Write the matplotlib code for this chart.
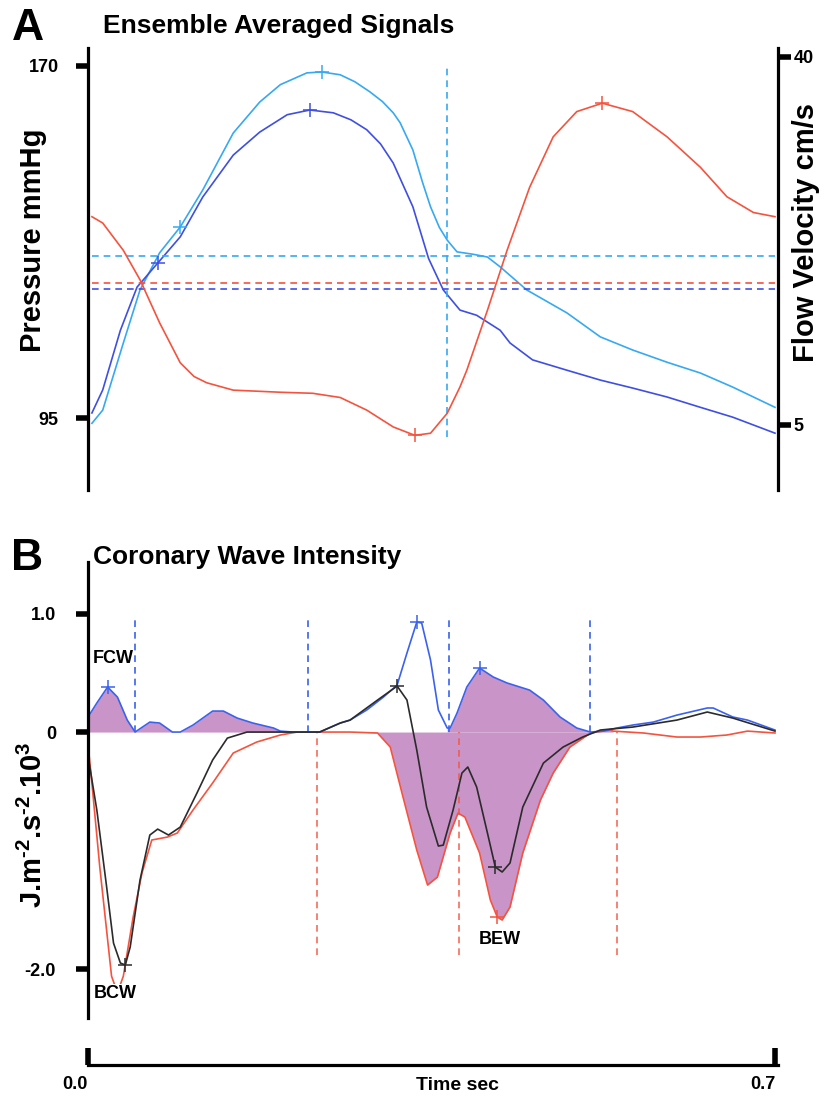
import numpy as np
import matplotlib
matplotlib.use("Agg")
import matplotlib.pyplot as plt

plt.rcParams['font.family'] = ['Liberation Sans', 'DejaVu Sans']
plt.rcParams['font.weight'] = 'bold'
plt.rcParams['mathtext.fontset'] = 'custom'
plt.rcParams['mathtext.rm'] = 'Liberation Sans:bold'
plt.rcParams['mathtext.bf'] = 'Liberation Sans:bold'

# ---- panel A: ensemble averaged signals ----
t_pa = [0.004, 0.015, 0.036, 0.053, 0.073, 0.094, 0.117, 0.148, 0.175, 0.196,
        0.223, 0.238, 0.257, 0.272, 0.287, 0.300, 0.311, 0.318, 0.331, 0.341,
        0.349, 0.358, 0.366, 0.376, 0.392, 0.407, 0.420, 0.447, 0.488, 0.522,
        0.555, 0.590, 0.624, 0.657, 0.685, 0.700]
p_a = [93.9, 96.7, 111.0, 122.3, 130.2, 135.7, 143.6, 155.7, 162.3, 166.0,
       168.5, 168.7, 168.1, 166.6, 164.5, 162.4, 160.0, 157.9, 152.1, 145.1,
       140.0, 135.6, 132.9, 130.4, 129.9, 129.3, 127.2, 122.3, 117.4, 112.3,
       109.5, 106.9, 104.6, 101.6, 98.8, 97.3]

t_pd = [0.004, 0.015, 0.033, 0.050, 0.071, 0.094, 0.117, 0.148, 0.175, 0.203,
        0.226, 0.250, 0.268, 0.284, 0.298, 0.311, 0.331, 0.347, 0.362, 0.379,
        0.396, 0.420, 0.430, 0.453, 0.488, 0.522, 0.555, 0.590, 0.624, 0.657,
        0.700]
p_d = [96.1, 101.0, 113.7, 122.9, 128.0, 133.6, 142.1, 151.0, 155.9, 159.6,
       160.6, 160.0, 158.5, 156.4, 153.4, 149.3, 140.0, 129.0, 122.3, 118.0,
       116.9, 113.7, 111.0, 107.4, 105.2, 103.1, 101.4, 99.5, 97.3, 95.2,
       91.8]

t_u = [0.004, 0.015, 0.036, 0.053, 0.073, 0.094, 0.108, 0.121, 0.148, 0.196,
       0.229, 0.257, 0.284, 0.311, 0.333, 0.349, 0.366, 0.379, 0.386, 0.407,
       0.427, 0.450, 0.474, 0.498, 0.524, 0.555, 0.590, 0.624, 0.651, 0.678,
       0.700]
u = [24.8, 24.2, 21.6, 18.8, 14.7, 10.9, 9.6, 9.0, 8.3, 8.1,
     8.0, 7.6, 6.4, 4.8, 4.0, 4.2, 6.1, 8.6, 10.2, 15.9,
     21.6, 27.6, 32.4, 34.8, 35.6, 34.8, 32.4, 29.5, 26.7, 25.2,
     24.8]

pa_marks = ([0.094, 0.238], [135.7, 168.7])
pd_marks = ([0.071, 0.226], [128.0, 160.6])
u_marks = ([0.333, 0.524], [4.0, 35.6])
pa_mean, pd_mean, u_mean = 129.5, 122.5, 18.5
t_valve = 0.366

# ---- panel B: coronary wave intensity ----
t_fw = [0.000, 0.009, 0.020, 0.030, 0.040, 0.048, 0.063, 0.073, 0.086, 0.094,
        0.107, 0.127, 0.138, 0.152, 0.168, 0.189, 0.196, 0.209, 0.236, 0.257,
        0.267, 0.284, 0.301, 0.315, 0.325, 0.335, 0.340, 0.349, 0.357, 0.366,
        0.369, 0.376, 0.386, 0.399, 0.413, 0.427, 0.450, 0.464, 0.481, 0.498,
        0.512, 0.525, 0.539, 0.555, 0.576, 0.600, 0.631, 0.637, 0.657, 0.672,
        0.700]
w_fw = [0.127, 0.245, 0.380, 0.295, 0.101, 0.000, 0.084, 0.076, 0.000, 0.000,
        0.059, 0.177, 0.177, 0.118, 0.076, 0.034, 0.008, 0.000, 0.000, 0.076,
        0.101, 0.186, 0.295, 0.397, 0.667, 0.928, 0.920, 0.608, 0.186, 0.034,
        0.034, 0.160, 0.380, 0.540, 0.464, 0.414, 0.354, 0.270, 0.127, 0.034,
        0.000, 0.008, 0.034, 0.059, 0.084, 0.143, 0.203, 0.203, 0.127, 0.101,
        0.017]

t_net = [0.000, 0.009, 0.019, 0.026, 0.033, 0.038, 0.043, 0.053, 0.063, 0.071,
         0.082, 0.094, 0.111, 0.127, 0.142, 0.162, 0.236, 0.257, 0.267, 0.295,
         0.315, 0.325, 0.335, 0.345, 0.357, 0.362, 0.372, 0.381, 0.387, 0.396,
         0.407, 0.415, 0.422, 0.430, 0.443, 0.464, 0.484, 0.504, 0.522, 0.532,
         0.555, 0.600, 0.631, 0.657, 0.700]
w_net = [-0.20, -0.658, -1.308, -1.781, -1.949, -1.966, -1.814, -1.249, -0.869, -0.819,
         -0.869, -0.802, -0.515, -0.236, -0.051, 0.000, 0.000, 0.076, 0.101, 0.270,
         0.388, 0.270, -0.152, -0.633, -0.962, -0.954, -0.658, -0.346, -0.295, -0.464,
         -0.852, -1.139, -1.181, -1.105, -0.633, -0.262, -0.127, -0.042, 0.017, 0.025,
         0.042, 0.101, 0.169, 0.118, 0.008]

t_bw = [0.000, 0.003, 0.012, 0.024, 0.030, 0.036, 0.046, 0.055, 0.065, 0.081,
        0.091, 0.107, 0.127, 0.148, 0.172, 0.196, 0.213, 0.267, 0.295, 0.308,
        0.321, 0.335, 0.346, 0.356, 0.369, 0.377, 0.384, 0.399, 0.410, 0.417,
        0.422, 0.430, 0.443, 0.461, 0.474, 0.491, 0.512, 0.532, 0.535, 0.566,
        0.600, 0.624, 0.651, 0.672, 0.700]
w_bw = [-0.10, -0.346, -1.139, -2.06, -2.20, -2.06, -1.561, -1.190, -0.911, -0.886,
        -0.852, -0.658, -0.430, -0.177, -0.084, -0.025, 0.000, 0.000, -0.008, -0.127,
        -0.549, -0.996, -1.291, -1.224, -0.852, -0.684, -0.717, -1.021, -1.418, -1.561,
        -1.586, -1.477, -1.021, -0.574, -0.346, -0.127, -0.008, 0.017, 0.008, -0.008,
        -0.042, -0.042, -0.025, 0.008, -0.008]

fw_marks = ([0.020, 0.335, 0.399], [0.380, 0.928, 0.540])
net_marks = ([0.038, 0.315, 0.415], [-1.966, 0.388, -1.139])
bw_marks = ([0.417], [-1.561])
fw_lines = [0.048, 0.224, 0.368, 0.5115]
bw_lines = [0.233, 0.378, 0.539]

CYAN = '#36a9f2'
DBLUE = '#3f4fe2'
RED = '#f5533e'
BBLUE = '#3b62ee'
BLACK = '#2b2b2b'
FILL = '#c994c7'

W, H = 826, 1106
fig = plt.figure(figsize=(W / 100, H / 100), dpi=100)


def box(x0, y0, x1, y1):
    return [x0 / W, 1 - y1 / H, (x1 - x0) / W, (y1 - y0) / H]


XMAX = 0.7 * 690 / 687

# Panel A
axA = fig.add_axes(box(88, 48, 778, 490))
axA2 = axA.twinx()
axA.set_xlim(0, XMAX)
axA.set_ylim(79.7, 173.8)
axA2.set_ylim(-1.2, 40.85)
for a in (axA, axA2):
    for s in ('top', 'bottom'):
        a.spines[s].set_visible(False)
    a.set_xticks([])
axA.spines['right'].set_visible(False)
axA2.spines['left'].set_visible(False)
axA.spines['left'].set_linewidth(2.3)
axA2.spines['right'].set_linewidth(2.3)
axA.set_yticks([95, 170])
axA.set_yticklabels(['95', '170'])
axA2.set_yticks([5, 40])
axA2.set_yticklabels(['5', '40'])
axA.tick_params(axis='y', length=9, width=4, pad=12, labelsize=13)
axA2.tick_params(axis='y', length=9, width=4, pad=2, labelsize=13)

axA.plot(t_pa, p_a, color=CYAN, lw=1.2)
axA.plot(t_pd, p_d, color=DBLUE, lw=1.2)
axA2.plot(t_u, u, color=RED, lw=1.2)
axA.plot(*pa_marks, '+', color=CYAN, ms=10, mew=1.1)
axA.plot(*pd_marks, '+', color=DBLUE, ms=10, mew=1.1)
axA2.plot(*u_marks, '+', color=RED, ms=10, mew=1.1)
axA.hlines(pa_mean, 0.004, 0.7, color=CYAN, ls=(0, (4, 3)), lw=1.2)
axA.hlines(pd_mean, 0.004, 0.7, color=DBLUE, ls=(0, (4, 3)), lw=1.2)
axA2.hlines(u_mean, 0.004, 0.7, color=RED, ls=(0, (4, 3)), lw=1.2)
axA.vlines(t_valve, 91.0, 169.6, color=CYAN, ls=(0, (4, 3)), lw=1.2)

fig.text(33 / W, 1 - 240 / H, 'Pressure mmHg', fontsize=21, rotation=90,
         ha='center', va='center')
fig.text(806 / W, 1 - 233 / H, 'Flow Velocity cm/s', fontsize=21, rotation=90,
         ha='center', va='center')
fig.text(28 / W, 1 - 28 / H, 'A', fontsize=32, ha='center', va='center')
fig.text(103 / W, 1 - 26 / H, 'Ensemble Averaged Signals', fontsize=19,
         ha='left', va='center')

# Panel B
axB = fig.add_axes(box(88, 562, 778, 1018))
axB.set_xlim(0, XMAX)
axB.set_ylim(-2.413, 1.435)
for s in ('top', 'bottom', 'right'):
    axB.spines[s].set_visible(False)
axB.spines['left'].set_linewidth(2.3)
axB.set_xticks([])
axB.set_yticks([-2.0, 0, 1.0])
axB.set_yticklabels(['-2.0', '0', '1.0'])
axB.tick_params(axis='y', length=9, width=4, pad=14, labelsize=13)

tf = np.array(t_fw)
wf = np.array(w_fw)
tb = np.array(t_bw)
wb = np.array(w_bw)
axB.fill_between(tf, wf, 0, where=(tf <= 0.224), color=FILL, lw=0)
axB.fill_between(tf, wf, 0, where=(tf >= 0.366) & (tf <= 0.512), color=FILL, lw=0)
axB.fill_between(tb, wb, 0, where=(tb >= 0.267) & (tb <= 0.54), color=FILL, lw=0)

axB.vlines(fw_lines, 0, 0.945, color=BBLUE, ls=(0, (4, 3)), lw=1.2)
axB.vlines(bw_lines, -1.88, 0, color=RED, ls=(0, (4, 3)), lw=1.2, alpha=0.85)

axB.plot(t_bw, w_bw, color=RED, lw=1.2)
axB.plot(t_fw, w_fw, color=BBLUE, lw=1.2)
axB.plot(t_net, w_net, color=BLACK, lw=1.2)
axB.plot(*fw_marks, '+', color=BBLUE, ms=10, mew=1.1)
axB.plot(*net_marks, '+', color=BLACK, ms=10, mew=1.1)
axB.plot(*bw_marks, '+', color=RED, ms=10, mew=1.1)

axB.text(0.026, 0.62, 'FCW', fontsize=13, ha='center', va='center')
axB.text(0.028, -2.21, 'BCW', fontsize=13, ha='center', va='center',
         bbox=dict(facecolor='white', edgecolor='none', pad=1))
axB.text(0.420, -1.75, 'BEW', fontsize=13, ha='center', va='center')

fig.text(33 / W, 1 - 825 / H, 'J.m$^{\u20102}$.s$^{\u20102}$.10$^{3}$', fontsize=21,
         rotation=90, ha='center', va='center')
fig.text(27 / W, 1 - 558 / H, 'B', fontsize=32, ha='center', va='center')
fig.text(93 / W, 1 - 557 / H, 'Coronary Wave Intensity', fontsize=19,
         ha='left', va='center')

# Time axis
axT = fig.add_axes(box(88, 1000, 778, 1065))
axT.patch.set_visible(False)
axT.set_xlim(0, XMAX)
for s in ('top', 'left', 'right'):
    axT.spines[s].set_visible(False)
axT.spines['bottom'].set_linewidth(2.3)
axT.set_yticks([])
axT.set_xticks([0.0, 0.7])
axT.set_xticklabels(['0.0', '0.7'], ha='right')
axT.tick_params(axis='x', direction='in', length=12, width=4, pad=8, labelsize=13)
fig.text(458 / W, 1 - 1086 / H, 'Time sec', fontsize=14, ha='center', va='center')

fig.savefig('out.png', dpi=100)
